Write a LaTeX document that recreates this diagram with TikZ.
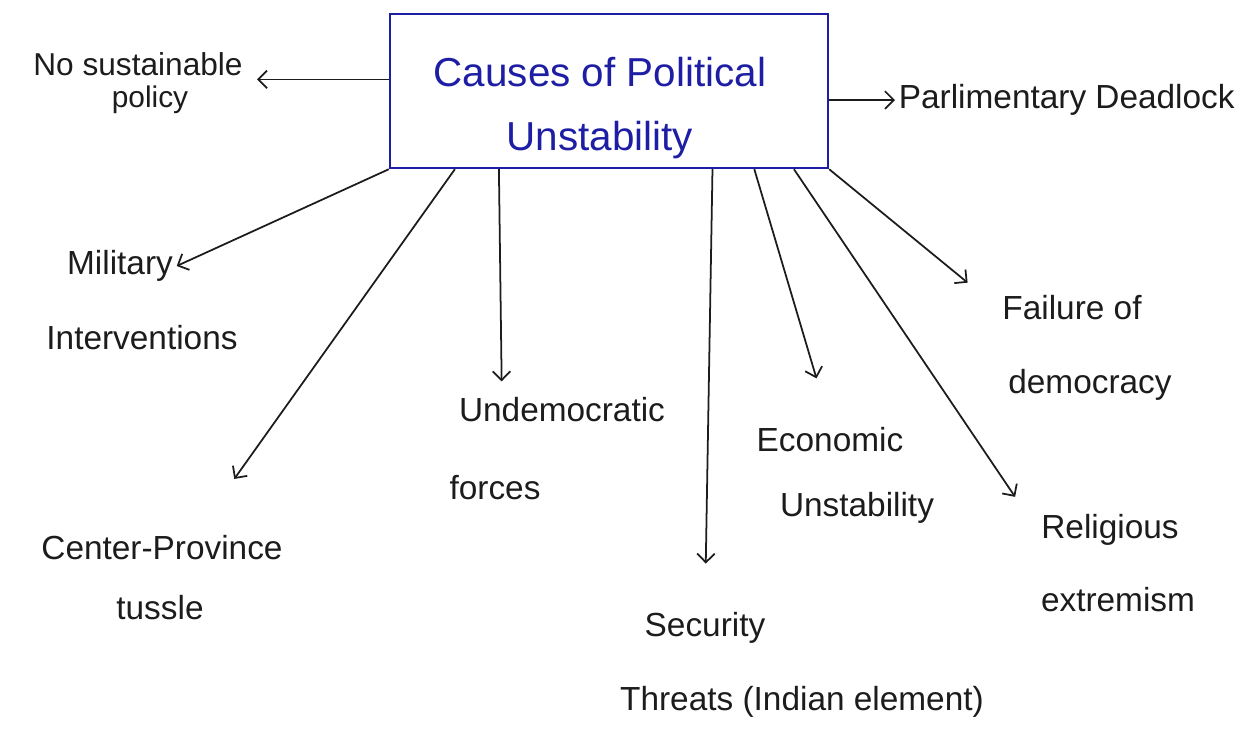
\documentclass[tikz,border=0pt]{standalone}
\usepackage{fontspec}
\setmainfont{Liberation Sans}
\usetikzlibrary{calc}
\usetikzlibrary{arrows.meta}
\definecolor{inkblue}{RGB}{30,30,165}
\definecolor{pencil}{RGB}{28,28,28}

\begin{document}
\begin{tikzpicture}[x=0.02cm, y=-0.02cm,
  cause/.style={text=pencil, font=\fontsize{19}{23}\selectfont, inner sep=2pt},
  link/.style={pencil, line width=1pt, ->, >={Straight Barb[length=5pt,width=10pt]}}]
\useasboundingbox (0,0) rectangle (1249,735);
% heading box
\node[draw=inkblue, line width=1.4pt, minimum width=8.76cm, minimum height=3.08cm]
  (title) at (609,91) {};
\node[text=inkblue, align=center, font=\fontsize{23}{36}\selectfont]
  (heading) at (600,108) {Causes of Political\\Unstability};
% causes, one node per written line
\node[cause, font=\fontsize{18}{22}\selectfont] (policy1) at (138,64) {No sustainable};
\node[cause, font=\fontsize{17}{20}\selectfont] (policy2) at (150,100) {policy};
\node[cause, anchor=west] (deadlock) at (895,100) {Parlimentary Deadlock};
\node[cause] (military1) at (120,266) {Military};
\node[cause] (military2) at (142,338) {Interventions};
\node[cause] (tussle1) at (162,548) {Center-Province};
\node[cause] (tussle2) at (160,608) {tussle};
\node[cause] (undemo1) at (562,410) {Undemocratic};
\node[cause] (undemo2) at (495,488) {forces};
\node[cause] (security1) at (705,628) {Security};
\node[cause] (security2) at (802,702) {Threats (Indian element)};
\node[cause] (economic1) at (830,440) {Economic};
\node[cause] (economic2) at (857,508) {Unstability};
\node[cause] (religion1) at (1110,530) {Religious};
\node[cause] (religion2) at (1118,600) {extremism};
\node[cause] (failure1) at (1072,308) {Failure of};
\node[cause] (failure2) at (1090,385) {democracy};
% side arrows
\draw[link] (title.west |- policy1.south east) -- ([xshift=6pt]policy1.south east);
\draw[link] (title.east |- deadlock.west) -- (deadlock.west);
% arrows from the bottom of the box
\foreach \f/\n/\s in {0/military1.east/0pt, .15/tussle1.25/1.3cm, .25/undemo1.165/.25cm,
  .735/security1.north/.9cm, .83/economic1.north/.95cm, .92/religion1.west/.8cm,
  1/failure1.west/.8cm} {
 \draw[link, shorten >=\s] ($(title.south west)!\f!(title.south east)$) -- (\n);
}
\end{tikzpicture}
\end{document}
